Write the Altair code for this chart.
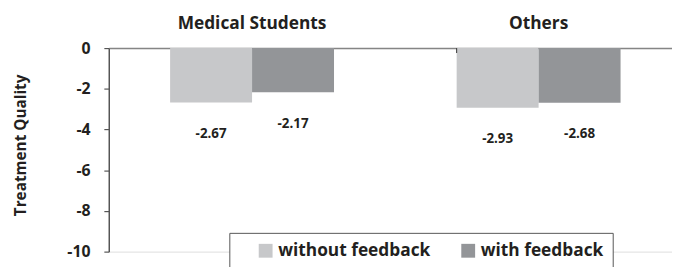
import altair as alt
import pandas as pd

groups = ["Medical Students", "Medical Students", "Others", "Others"]
conditions = ["without feedback", "with feedback", "without feedback", "with feedback"]
values = [-2.67, -2.17, -2.93, -2.68]
labels = ["-2.67", "-2.17", "-2.93", "-2.68"]

group_order = ["Medical Students", "Others"]
cond_order = ["without feedback", "with feedback"]
cond_colors = ["#c7c8ca", "#939598"]
y_ticks = [0, -2, -4, -6, -8, -10]

df = pd.DataFrame({"group": groups, "condition": conditions, "value": values, "label": labels})

FONT = "Open Sans"
TXT = "#231f20"

x_enc = alt.X(
    "group:N",
    sort=group_order,
    scale=alt.Scale(range=[0, 580], paddingInner=0.428, paddingOuter=0.214),
    axis=alt.Axis(
        orient="top", title=None, ticks=False, labelPadding=16, labelAngle=0,
        labelFont=FONT, labelFontWeight="bold", labelFontSize=17.5, labelColor=TXT,
        domainColor="#858585", domainWidth=1.5,
    ),
)
xoff = alt.XOffset("condition:N", sort=cond_order, scale=alt.Scale(paddingInner=0, paddingOuter=0))
y_enc = alt.Y(
    "value:Q",
    scale=alt.Scale(domain=[-10, 0], nice=False),
    axis=alt.Axis(
        values=y_ticks, grid=False, title="Treatment Quality",
        labelExpr="datum.value == 0 ? '0' : '-' + abs(datum.value)",
        titleFont=FONT, titleFontWeight="bold", titleFontSize=15.5, titleColor=TXT,
        titleX=-81, titleY=98,
        labelFont=FONT, labelFontWeight="bold", labelFontSize=16, labelColor=TXT, labelPadding=14,
        tickSize=5, tickColor="#555555", domainColor="#555555", domainWidth=1.5, tickWidth=1.2,
    ),
)

bars = alt.Chart(df).mark_bar(clip=False).encode(
    x=x_enc,
    xOffset=xoff,
    y=y_enc,
    y2=alt.datum(0),
    color=alt.Color(
        "condition:N",
        sort=cond_order,
        scale=alt.Scale(domain=cond_order, range=cond_colors),
        legend=alt.Legend(
            orient="none", legendX=122, legendY=187, direction="horizontal", columns=2,
            title=None, symbolType="square", symbolSize=196, symbolStrokeWidth=0,
            labelFont=FONT, labelFontWeight="bold", labelFontSize=17.5, labelColor=TXT,
            labelExpr="datum.label == 'with feedback' ? datum.label + '\u00a0\u00a0\u00a0' : datum.label",
            labelOffset=4, columnPadding=10, padding=9, symbolOffset=19,
            strokeColor="#555555", fillColor="white",
        ),
    ),
)

text = alt.Chart(df).mark_text(
    dy=32, font=FONT, fontWeight="bold", fontSize=13.5, color=TXT, baseline="middle"
).encode(
    x=alt.X("group:N", sort=group_order),
    xOffset=alt.XOffset("condition:N", sort=cond_order),
    y=alt.Y("value:Q"),
    text="label:N",
)

sep = alt.Chart(pd.DataFrame({"group": ["Others"]})).mark_rule(color="#333333", strokeWidth=1).encode(
    x=alt.X("group:N", sort=group_order, bandPosition=0),
    y=alt.value(0),
    y2=alt.value(5),
)

chart = alt.layer(bars, text, sep).properties(
    width=570,
    height=206,
    padding={"left": 102, "top": 39, "right": 0, "bottom": 14},
    autosize=alt.AutoSizeParams(type="none"),
).configure_view(stroke=None).configure(background="white")

chart.save("out.html", embed_options={"renderer": "svg", "actions": False})
